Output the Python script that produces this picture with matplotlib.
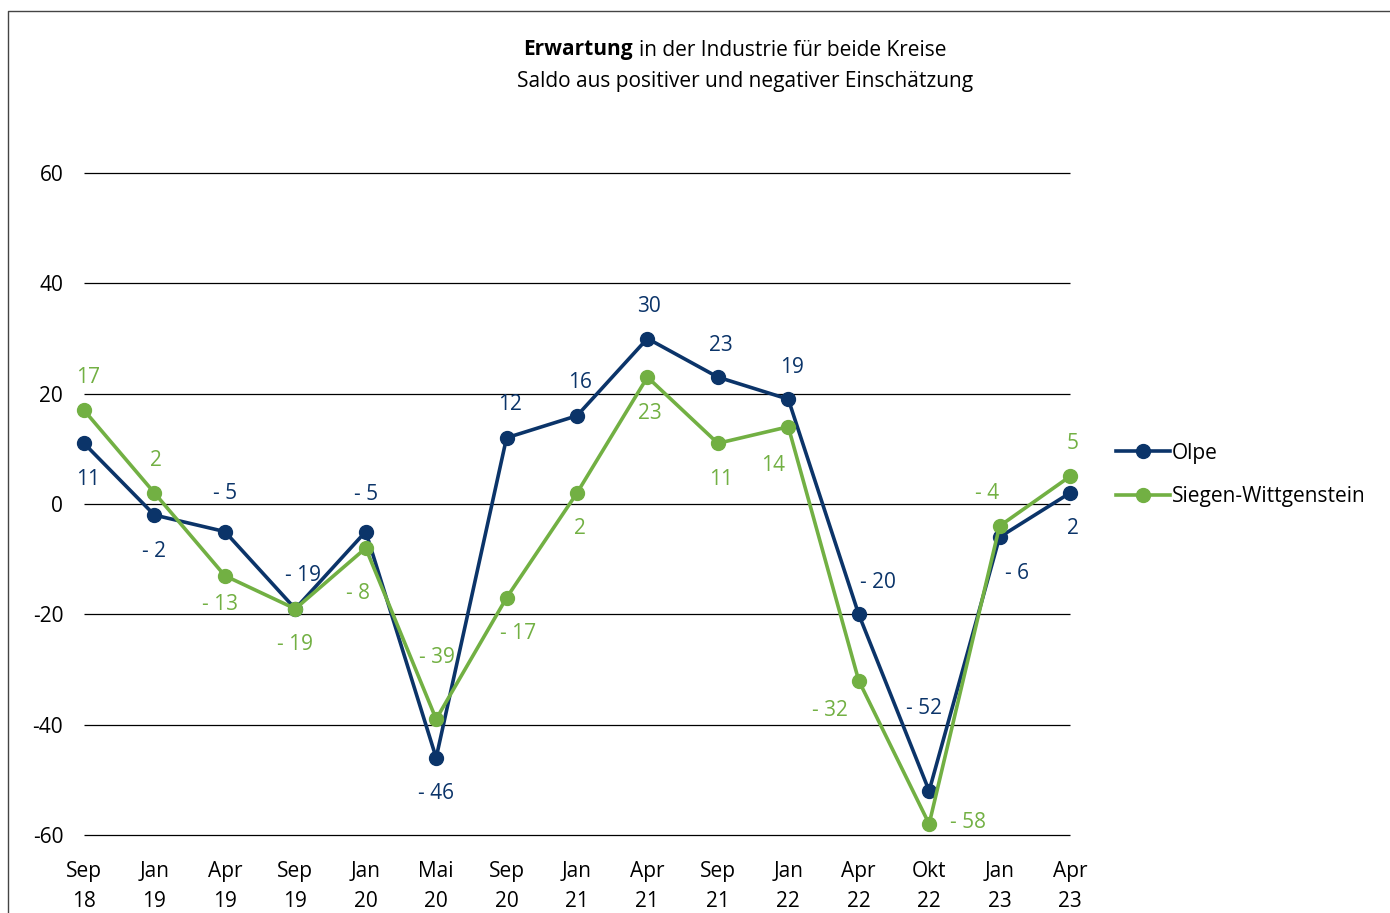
import matplotlib.pyplot as plt
from matplotlib.lines import Line2D

months = ['Sep', 'Jan', 'Apr', 'Sep', 'Jan', 'Mai', 'Sep', 'Jan', 'Apr', 'Sep', 'Jan', 'Apr', 'Okt', 'Jan', 'Apr']
years = ['18', '19', '19', '19', '20', '20', '20', '21', '21', '21', '22', '22', '22', '23', '23']
olpe = [11, -2, -5, -19, -5, -46, 12, 16, 30, 23, 19, -20, -52, -6, 2]
siegen = [17, 2, -13, -19, -8, -39, -17, 2, 23, 11, 14, -32, -58, -4, 5]

# label offsets in pixels (dx, dy)
olpe_off = [(4, -36), (0, -36), (0, 38), (8, 33), (0, 37), (0, -36), (3, 33), (3, 33), (2, 32),
            (3, 32), (4, 32), (19, 32), (-5, 82), (17, -36), (3, -36)]
siegen_off = [(4, 33), (2, 32), (-5, -29), (0, -36), (-8, -45), (1, 62), (11, -36), (3, -36), (2, -36),
              (3, -36), (-15, -39), (-29, -30), (39, 1), (-13, 33), (3, 33)]

navy = '#0b3469'
green = '#72b043'

plt.rcParams['font.family'] = ['Open Sans', 'DejaVu Sans']
plt.rcParams['axes.unicode_minus'] = False

fig = plt.figure(figsize=(13.9, 9.13), dpi=100)
ax = fig.add_axes([84 / 1390, 1 - 835 / 913, (1070 - 84) / 1390, (835 - 173) / 913])

yticks = [-60, -40, -20, 0, 20, 40, 60]
x = list(range(len(months)))
ax.hlines(yticks, 0, 14, color='black', lw=0.9, clip_on=False, zorder=1)
ax.plot(x, olpe, color=navy, lw=2.6, marker='o', ms=10, clip_on=False, zorder=3, label='Olpe')
ax.plot(x, siegen, color=green, lw=2.6, marker='o', ms=10, clip_on=False, zorder=4, label='Siegen-Wittgenstein')

def fmt(v):
    return '- %d' % abs(v) if v < 0 else str(v)

for i in x:
    ax.annotate(fmt(olpe[i]), (i, olpe[i]), xytext=olpe_off[i], textcoords='offset pixels',
                ha='center', va='center', color=navy, fontsize=15)
    ax.annotate(fmt(siegen[i]), (i, siegen[i]), xytext=siegen_off[i], textcoords='offset pixels',
                ha='center', va='center', color=green, fontsize=15)

ax.set_xlim(0, 14)
ax.set_ylim(-60, 60)
ax.set_yticks(yticks)
ax.set_xticks(x)
ax.set_xticklabels([m + '\n' + y for m, y in zip(months, years)], linespacing=1.55)
ax.tick_params(length=0, labelsize=15)
ax.tick_params(axis='x', pad=19)
ax.tick_params(axis='y', pad=15)
for s in ax.spines.values():
    s.set_visible(False)

fig.text(633 / 1390, 1 - 50 / 913, 'Erwartung', ha='right', va='center', fontsize=15, fontweight='bold')
fig.text(639 / 1390, 1 - 50 / 913, 'in der Industrie für beide Kreise', ha='left', va='center', fontsize=15)
fig.text(745 / 1390, 1 - 81 / 913, 'Saldo aus positiver und negativer Einschätzung', ha='center', va='center', fontsize=15)

fig.legend(loc='center left', bbox_to_anchor=(1097 / 1390, 1 - 475 / 913), frameon=False,
           fontsize=15, handlelength=2.6, handletextpad=0.1, labelspacing=1.1)

fig.add_artist(Line2D([8 / 1390, 8 / 1390, 1], [0, 1 - 11 / 913, 1 - 11 / 913],
                      transform=fig.transFigure, color='#444444', lw=1))

fig.savefig('out.png', dpi=100)
